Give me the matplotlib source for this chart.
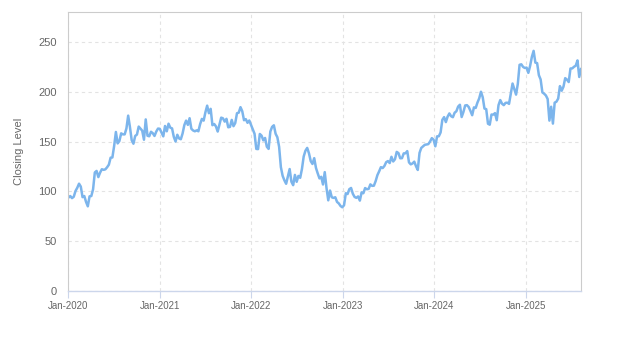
import pandas as pd
import numpy as np
import matplotlib
matplotlib.use('Agg')
import matplotlib.pyplot as plt
import matplotlib.dates as mdates

plt.rcParams['font.family'] = ['Liberation Sans', 'DejaVu Sans']

# weekly closing levels (Friday closes), Jan 2020 - Aug 2025
close_2020 = [93.8, 95.3, 93.2, 94.6, 100.4, 103.6, 107.7, 104.8, 94.2, 95.3,
              89.4, 85.0, 95.0, 95.3, 102.1, 119.0, 120.5, 114.3, 118.8, 122.2,
              121.6, 122.1, 124.2, 126.8, 133.8, 134.0, 145.5, 159.6, 148.1, 150.5,
              158.2, 157.2, 157.2, 163.1, 176.0, 164.6, 151.4, 147.8, 155.6, 157.0,
              165.0, 163.0, 160.9, 151.8, 172.2, 155.8, 155.3, 159.8, 158.4, 155.6,
              160.0, 163.0, 162.8]
close_2021 = [159.1, 155.2, 165.6, 160.3, 167.9, 163.9, 163.2, 154.7, 150.0, 156.8,
              153.1, 152.3, 158.1, 166.5, 171.0, 166.7, 173.4, 162.8, 161.1, 160.3,
              161.2, 160.3, 167.5, 172.7, 171.0, 179.3, 186.0, 178.4, 182.8, 166.4,
              167.6, 165.2, 160.0, 167.2, 174.0, 173.3, 170.0, 172.8, 164.3, 164.7,
              171.7, 165.4, 168.6, 178.4, 179.0, 184.5, 180.4, 171.4, 172.5, 168.8,
              171.1, 166.7]
close_2022 = [162.6, 157.8, 142.6, 142.4, 157.6, 155.9, 151.2, 153.6, 144.8, 142.6,
              160.1, 164.7, 166.3, 157.8, 154.3, 144.7, 124.3, 115.6, 111.1, 107.6,
              115.1, 122.4, 109.7, 106.2, 116.5, 109.6, 115.5, 113.6, 122.4, 135.0,
              140.8, 143.6, 138.2, 130.4, 127.5, 133.3, 123.5, 118.0, 113.0, 114.6,
              106.9, 119.3, 103.4, 91.0, 100.8, 94.1, 93.4, 94.1, 89.4, 87.9,
              85.3, 84.0]
close_2023 = [86.1, 98.1, 97.3, 102.2, 103.4, 97.6, 94.4, 93.5, 94.9, 90.7,
              99.0, 98.1, 103.3, 102.1, 102.5, 107.0, 105.5, 105.7, 110.3, 116.3,
              120.1, 124.3, 123.4, 125.5, 129.3, 130.4, 128.4, 134.7, 130.0, 132.2,
              139.6, 138.4, 133.2, 133.3, 138.1, 138.2, 140.4, 129.1, 127.1, 128.0,
              129.8, 125.2, 121.5, 138.6, 143.6, 145.2, 146.7, 147.0, 147.4, 150.0,
              153.4, 151.9]
close_2024 = [145.2, 155.2, 155.3, 159.1, 171.8, 174.5, 169.5, 175.0, 178.2, 175.4,
              174.4, 178.9, 180.4, 185.1, 186.9, 174.6, 179.6, 186.2, 186.5, 184.7,
              180.8, 176.4, 184.3, 183.7, 189.1, 193.3, 200.0, 194.5, 183.1, 182.5,
              167.9, 166.9, 177.1, 177.0, 178.5, 171.4, 186.5, 191.6, 188.0, 186.5,
              188.8, 189.0, 187.8, 197.9, 208.2, 202.6, 197.1, 207.9, 227.0, 227.5,
              224.9, 223.8]
close_2025 = [224.2, 218.9, 225.9, 234.9, 241.0, 229.2, 228.7, 216.6, 212.3, 199.3,
              198.0, 196.2, 192.7, 171.0, 184.9, 168.0, 189.0, 190.0, 193.1, 205.6,
              201.0, 205.0, 213.6, 212.1, 209.7, 223.3, 223.4, 225.0, 226.1, 231.4,
              214.8, 222.7]

closes = close_2020 + close_2021 + close_2022 + close_2023 + close_2024 + close_2025
dates = pd.date_range('2020-01-03', periods=len(closes), freq='W-FRI')

yticks = [0, 50, 100, 150, 200, 250]
xtick_years = [2020, 2021, 2022, 2023, 2024, 2025]

fig = plt.figure(figsize=(6.23, 3.5), dpi=100)
ax = fig.add_axes([68 / 623, 59 / 350, 513 / 623, 279 / 350])

ax.plot(dates, closes, color='#7cb5ec', linewidth=1.8, solid_joinstyle='round')

ax.set_xlim(pd.Timestamp('2020-01-01'), dates[-1])
ax.set_ylim(0, 280)

ax.set_yticks(yticks)
ax.set_xticks([pd.Timestamp(f'{y}-01-01') for y in xtick_years])
ax.xaxis.set_major_formatter(mdates.DateFormatter('%b-%Y'))

ax.grid(True, color='#e3e3e3', linestyle=(0, (3, 3)), linewidth=0.8)
ax.set_axisbelow(True)

for side in ['top', 'right', 'left']:
    ax.spines[side].set_color('#cccccc')
    ax.spines[side].set_linewidth(0.8)
ax.spines['bottom'].set_color('#ccd6eb')
ax.spines['bottom'].set_linewidth(1.0)

ax.tick_params(axis='y', length=0, pad=8, labelsize=8, labelcolor='#666666')
ax.tick_params(axis='x', length=5, width=0.8, color='#ccd6eb', pad=2,
               labelsize=7, labelcolor='#666666')

ax.set_ylabel('Closing Level', fontsize=8, color='#666666', labelpad=10)

fig.savefig('out.png', dpi=100, facecolor='white')
